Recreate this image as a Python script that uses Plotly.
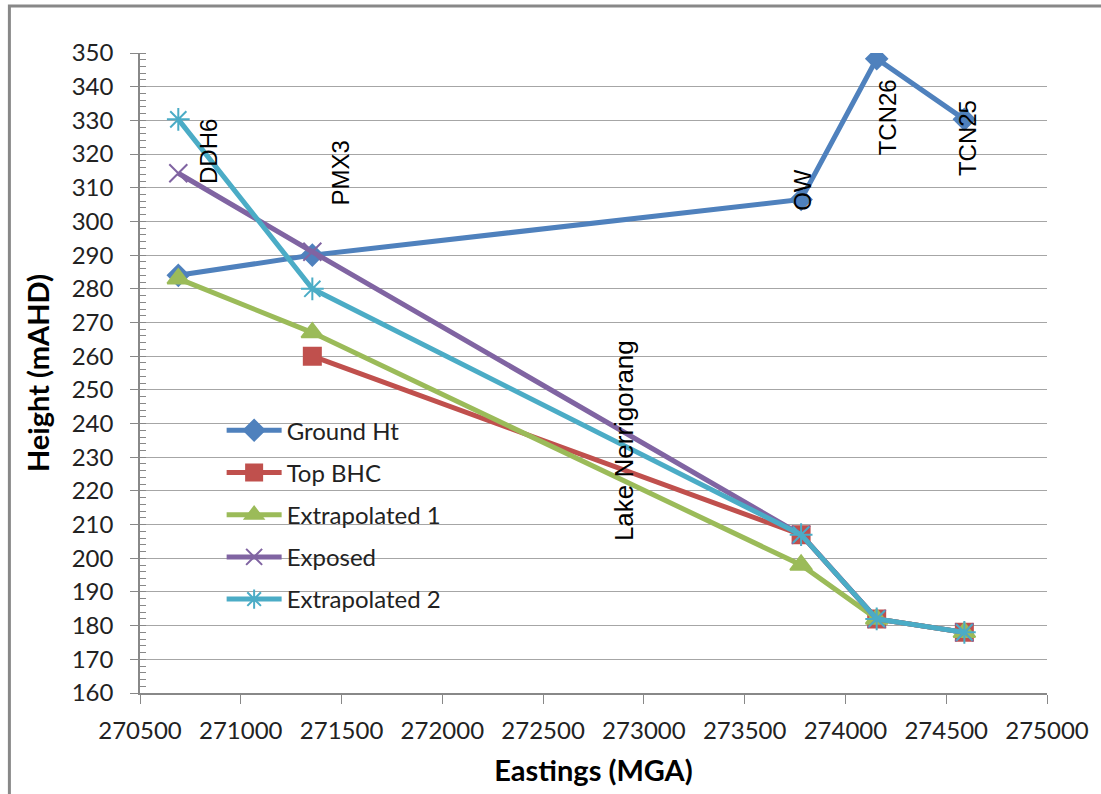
import plotly.graph_objects as go

# Data
east_all = [270690, 271355, 273780, 274155, 274590]
ground_ht = [284, 290, 306.5, 348.3, 330.3]

east_bhc = [271355, 273780, 274155, 274590]
top_bhc = [260, 207, 182, 178]

extrap1 = [283, 267, 198, 182, 178]
exposed = [314.3, 291, 207, 182, 178]
extrap2 = [330.3, 280, 207, 182, 178]

label_text = ["DDH6", "PMX3", "Lake Nerrigorang", "OW", "TCN26", "TCN25"]
label_x = [270839, 271495, 272905, 273783, 274206, 274609]
label_y = [320.7, 314.4, 235.0, 309.3, 330.9, 324.8]
label_size = [24, 24, 26, 24, 24, 24]

x_ticks = list(range(270500, 275001, 500))

FONT = "Lato"
colors = {
    "Ground Ht": "#4F81BD",
    "Top BHC": "#C0504D",
    "Extrapolated 1": "#9BBB59",
    "Exposed": "#8064A2",
    "Extrapolated 2": "#4BACC6",
}

fig = go.Figure()

def add(name, xs, ys, symbol, size, lw=5):
    c = colors[name]
    fig.add_trace(go.Scatter(
        x=xs, y=ys, name=name, mode="lines+markers", legendgroup=name,
        line=dict(color=c, width=lw),
        marker=dict(symbol=symbol, size=size, color=c,
                    line=dict(color=c, width=2)),
    ))

add("Ground Ht", east_all, ground_ht, "diamond", 16)
add("Top BHC", east_bhc, top_bhc, "square", 17)
add("Extrapolated 1", east_all, extrap1, "triangle-up", 19)
add("Exposed", east_all, exposed, "x-thin", 18)
add("Extrapolated 2", east_all, extrap2, "asterisk-open", 19)

for t, x, y, s in zip(label_text, label_x, label_y, label_size):
    fig.add_annotation(x=x, y=y, xref="x", yref="y", text=t, showarrow=False,
                       textangle=-90, xanchor="center", yanchor="middle",
                       font=dict(family="Liberation Sans", size=s, color="#000"))

# outer chart frame
fig.add_shape(type="rect", xref="paper", yref="paper",
              x0=-0.144, x1=1.2, y0=-0.3, y1=1.0733,
              line=dict(color="#888888", width=3), layer="below")

fig.update_layout(
    width=1101, height=794,
    margin=dict(l=140, r=51, t=53, b=100),
    paper_bgcolor="white", plot_bgcolor="white",
    font=dict(family=FONT, size=24, color="#222"),
    showlegend=True,
    legend=dict(x=0.09, y=0.445, xanchor="left", yanchor="top",
                bgcolor="rgba(0,0,0,0)", font=dict(family=FONT, size=24, color="#222"),
                tracegroupgap=8, itemwidth=55),
    xaxis=dict(range=[270500, 275000], tickvals=x_ticks,
               ticktext=[str(v) for v in x_ticks],
               showgrid=False, zeroline=False,
               showline=True, linecolor="#888888", linewidth=1.5,
               ticks="outside", ticklen=9, tickcolor="#888888",
               ticklabelstandoff=6,
               tickfont=dict(family=FONT, size=24, color="#222"),
               title=dict(text="<b>Eastings (MGA)</b>",
                          font=dict(family=FONT, size=29, color="#000"),
                          standoff=18)),
    yaxis=dict(range=[160, 350], dtick=10, tick0=160,
               showgrid=True, gridcolor="#A6A6A6", gridwidth=1.2,
               zeroline=False,
               showline=True, linecolor="#888888", linewidth=1.5,
               ticks="outside", ticklen=8, tickcolor="#888888",
               ticklabelstandoff=12,
               minor=dict(dtick=2, ticks="inside", ticklen=6, tickcolor="#888888", showgrid=False),
               tickfont=dict(family=FONT, size=24, color="#222"),
               title=dict(text="<b>Height (mAHD)</b>",
                          font=dict(family=FONT, size=29, color="#000"),
                          standoff=14)),
)

fig.write_html("out.html")
